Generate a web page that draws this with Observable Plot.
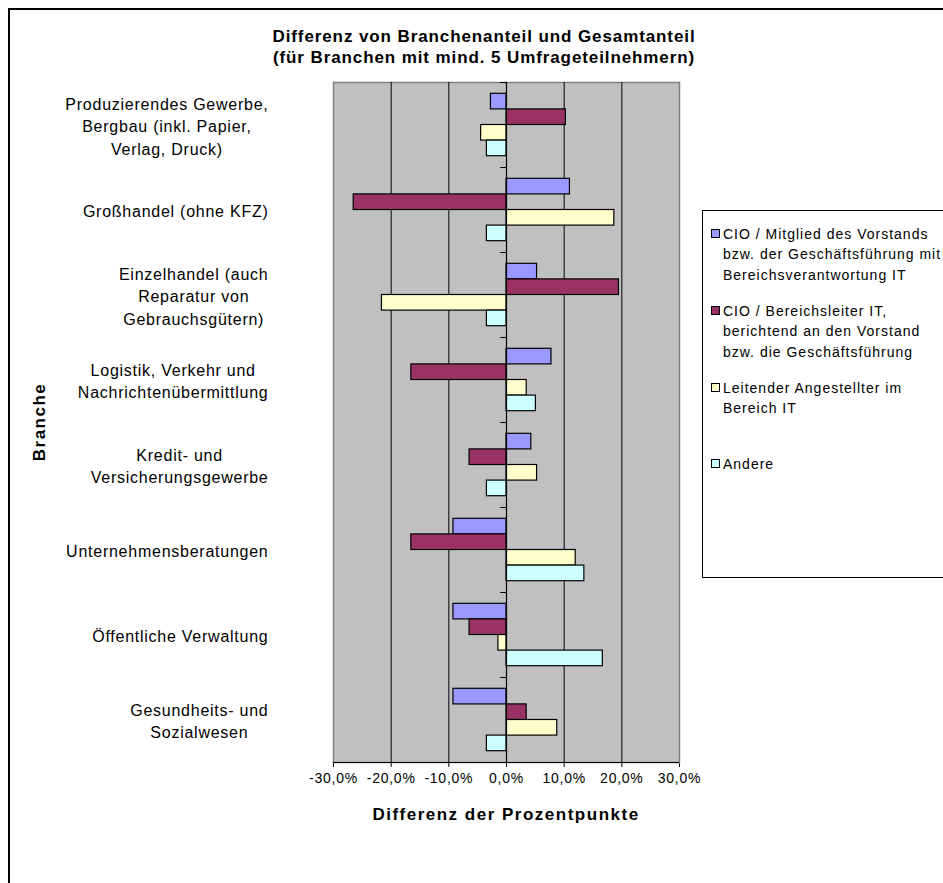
<!DOCTYPE html>
<html>
<head>
<meta charset="utf-8">
<script src="https://cdn.jsdelivr.net/npm/d3@7"></script>
<script src="https://cdn.jsdelivr.net/npm/@observablehq/plot@0.6"></script>
<style>
  body { margin: 0; background: #fff; font-family: "Liberation Sans", Arial, sans-serif; color: #000; }
  #wrap { position: relative; width: 943px; height: 883px; overflow: hidden; background: #fff; }
  #border { position: absolute; left: 8px; top: 8px; width: 960px; height: 900px; border: 2px solid #000; box-sizing: border-box; }
  #chart { position: absolute; left: 0; top: 0; }
  #chart svg text { letter-spacing: 0.75px; }
  .title { position: absolute; left: 8px; width: 952px; text-align: center; font-weight: bold; font-size: 17px; letter-spacing: 0.9px; line-height: 21px; }
  .xtitle { position: absolute; left: 333px; width: 346px; text-align: center; font-weight: bold; font-size: 17px; letter-spacing: 1.5px; line-height: 20px; }
  .ytitle { position: absolute; font-weight: bold; font-size: 17px; letter-spacing: 1.5px; line-height: 20px; transform: rotate(-90deg); transform-origin: center center; white-space: nowrap; }
  #legend { position: absolute; left: 702px; top: 210px; width: 300px; height: 368px; border: 1px solid #000; box-sizing: border-box; background: #fff; }
  .lg { position: absolute; left: 20px; font-size: 14px; letter-spacing: 1px; line-height: 20.5px; white-space: nowrap; }
  .sw { position: absolute; left: 8px; width: 7px; height: 7px; border: 1px solid #000; box-sizing: content-box; }
</style>
</head>
<body>
<div id="wrap">
  <div id="border"></div>
  <div id="chart"></div>
  <div class="title" style="top:26px">Differenz von Branchenanteil und Gesamtanteil<br>(für Branchen mit mind. 5 Umfrageteilnehmern)</div>
  <div class="xtitle" style="top:805px">Differenz der Prozentpunkte</div>
  <div class="ytitle" id="ytitle">Branche</div>
  <div id="legend"></div>
</div>
<script>
// ---- data ----
const categoryLabels = [
  "Produzierendes Gewerbe,\nBergbau (inkl. Papier,\nVerlag, Druck)",
  "Großhandel (ohne KFZ)",
  "Einzelhandel (auch\nReparatur von\nGebrauchsgütern)",
  "Logistik, Verkehr und\nNachrichtenübermittlung",
  "Kredit- und\nVersicherungsgewerbe",
  "Unternehmensberatungen",
  "Öffentliche Verwaltung",
  "Gesundheits- und\nSozialwesen"
];
const seriesNames = [
  "CIO / Mitglied des Vorstands bzw. der Geschäftsführung mit Bereichsverantwortung IT",
  "CIO / Bereichsleiter IT, berichtend an den Vorstand bzw. die Geschäftsführung",
  "Leitender Angestellter im Bereich IT",
  "Andere"
];
const seriesLegendLines = [
  ["CIO / Mitglied des Vorstands", "bzw. der Geschäftsführung mit", "Bereichsverantwortung IT"],
  ["CIO / Bereichsleiter IT,", "berichtend an den Vorstand", "bzw. die Geschäftsführung"],
  ["Leitender Angestellter im", "Bereich IT"],
  ["Andere"]
];
const seriesColors = ["#9999FF", "#993366", "#FFFFCC", "#CCFFFF"];
// values in percentage points
const cioVorstand      = [-2.7, 11.0,   5.3,   7.8,  4.3,  -9.2, -9.2, -9.2];
const bereichsleiterIT = [10.3, -26.5, 19.5, -16.5, -6.4, -16.5, -6.4,  3.5];
const leitenderAng     = [-4.4, 18.7, -21.6,   3.5,  5.3,  12.0, -1.4,  8.8];
const andere           = [-3.4, -3.4,  -3.4,   5.1, -3.4,  13.5, 16.7, -3.4];
const xTicks = [-30, -20, -10, 0, 10, 20, 30];

// ---- table ----
const seriesValues = [cioVorstand, bereichsleiterIT, leitenderAng, andere];
const barBand = 0.1835;                       // fraction of a category slot per bar
const groupPad = (1 - seriesValues.length * barBand) / 2;
const rows = [];
categoryLabels.forEach((c, i) => {
  seriesValues.forEach((vals, s) => {
    const y1 = i + groupPad + s * barBand;
    rows.push({category: c, series: seriesNames[s], value: vals[i], y1, y2: y1 + barBand});
  });
});

// label block widths (for centred, right-aligned category label blocks)
const LS = 0.75;
const ctx = document.createElement("canvas").getContext("2d");
ctx.font = "16px 'Liberation Sans'";
const blockWidth = lab => d3.max(lab.split("\n"), l => ctx.measureText(l).width + l.length * LS);

const labelMarks = categoryLabels.map((lab, i) =>
  Plot.text([{label: lab, idx: i}], {
    text: "label",
    y: d => d.idx + 0.5,
    frameAnchor: "left",
    textAnchor: "middle",
    lineAnchor: "middle",
    lineHeight: 1.4,
    fontSize: 16,
    fill: "#000",
    dx: -65 - blockWidth(lab) / 2
  })
);

const fmt = d => d.toFixed(1).replace(".", ",") + "%";

const plot = Plot.plot({
  width: 943,
  height: 883,
  marginLeft: 333,
  marginRight: 264,
  marginTop: 82,
  marginBottom: 121,
  style: {fontFamily: "'Liberation Sans', Arial, sans-serif", fontSize: "14px", color: "#000", background: "transparent", overflow: "visible"},
  x: {domain: [-30, 30], ticks: xTicks, tickFormat: fmt, tickSize: 5, tickPadding: 6, label: null},
  y: {domain: [0, 8], reverse: true, axis: null},
  color: {domain: seriesNames, range: seriesColors},
  marks: [
    Plot.frame({fill: "#C0C0C0", stroke: "#808080", strokeWidth: 1.5}),
    Plot.ruleX(xTicks.filter(d => d !== 0 && Math.abs(d) < 30), {stroke: "#000", strokeWidth: 1}),
    Plot.rect(rows, {x1: 0, x2: "value", y1: "y1", y2: "y2", fill: "series", stroke: "#000", strokeWidth: 1.2}),
    Plot.ruleX([0], {stroke: "#000", strokeWidth: 1.2}),
    Plot.ruleY(d3.range(categoryLabels.length + 1), {x1: -1, x2: 0, stroke: "#000", strokeWidth: 1}),
    Plot.ruleY([categoryLabels.length], {stroke: "#000", strokeWidth: 1}),
    ...labelMarks
  ]
});
document.getElementById("chart").appendChild(plot);

// y title centred on plot area
const yt = document.getElementById("ytitle");
const ys = plot.scale("y");
const cy = (ys.apply(0) + ys.apply(8)) / 2;
yt.style.left = (40 - yt.offsetWidth / 2) + "px";
yt.style.top = (cy - yt.offsetHeight / 2) + "px";

// legend
const legend = document.getElementById("legend");
const lineH = 20.5;
const firstCenters = [233, 310, 387, 463];  // page y of each entry's first line
seriesLegendLines.forEach((lines, s) => {
  const topPx = firstCenters[s] - 210 - lineH / 2;
  const sw = document.createElement("div");
  sw.className = "sw";
  sw.style.top = (firstCenters[s] - 210 - 5) + "px";
  sw.style.background = seriesColors[s];
  legend.appendChild(sw);
  const t = document.createElement("div");
  t.className = "lg";
  t.style.top = topPx + "px";
  t.innerHTML = lines.join("<br>");
  legend.appendChild(t);
});
</script>
</body>
</html>
